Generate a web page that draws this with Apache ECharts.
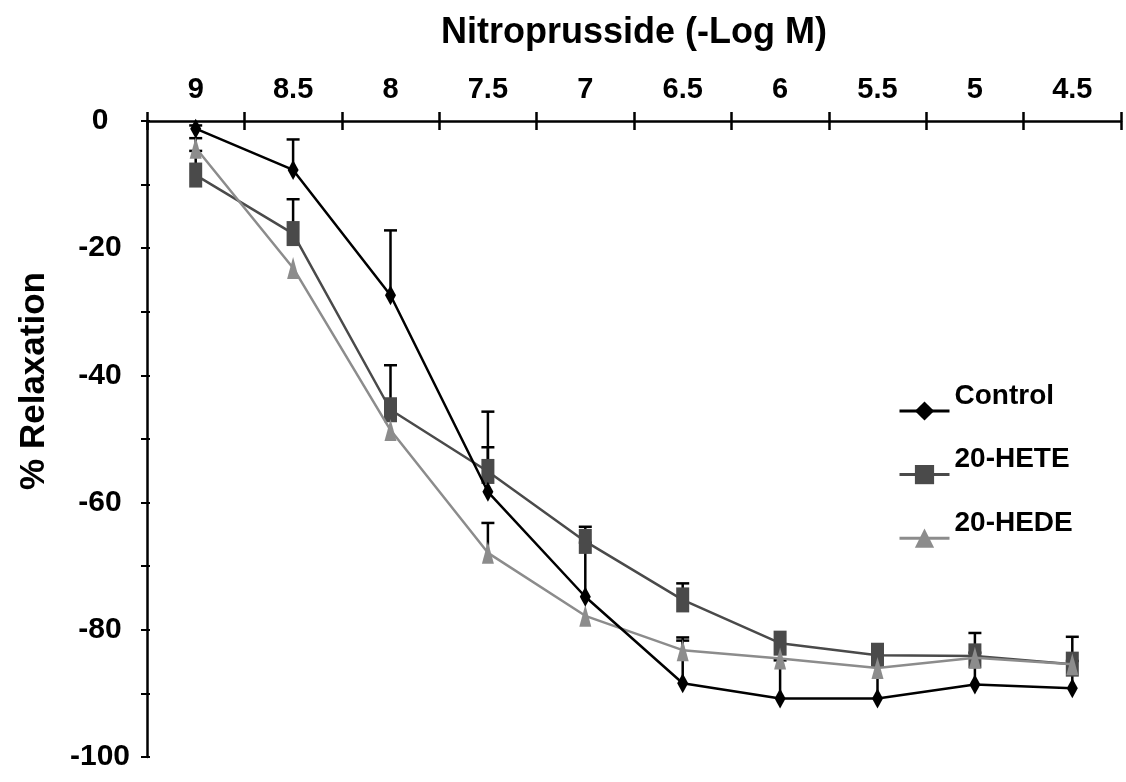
<!DOCTYPE html>
<html>
<head>
<meta charset="utf-8">
<script src="https://cdn.jsdelivr.net/npm/echarts@6/dist/echarts.min.js"></script>
<style>
  html, body { margin: 0; padding: 0; background: #fff; }
  #chart { width: 1126px; height: 782px; }
</style>
</head>
<body>
<div id="chart"></div>
<script>
// concentrations (-Log M)
var doses = ["9", "8.5", "8", "7.5", "7", "6.5", "6", "5.5", "5", "4.5"];

// % relaxation
var control = [-1.2, -7.7, -27.4, -58.3, -74.8, -88.4, -90.8, -90.8, -88.6, -89.2];
var hete = [-8.5, -17.7, -45.4, -55.1, -66.1, -75.3, -82.1, -84.0, -84.1, -85.4];
var hede = [-4.2, -23.1, -48.6, -67.9, -77.8, -83.2, -84.5, -86.0, -84.4, -85.4];

// upper error (SEM), 0 = no visible bar
var controlErr = [0.5, 4.8, 10.2, 7.0, 8.5, 7.2, 6.0, 5.0, 8.1, 8.1];
var heteErr = [3.8, 5.4, 7.0, 9.4, 2.3, 2.6, 0, 0, 0.5, 0.5];
var hedeErr = [1.5, 0, 0, 4.7, 0, 1.5, 0, 0, 0, 0];

var font = "'Liberation Sans', Arial, sans-serif";

function errRows(vals, errs) {
  var rows = [];
  for (var i = 0; i < vals.length; i++) {
    if (errs[i] > 0) rows.push([i, vals[i], vals[i] + errs[i]]);
  }
  return rows;
}

function errorBar(params, api) {
  var lo = api.coord([api.value(0), api.value(1)]);
  var hi = api.coord([api.value(0), api.value(2)]);
  var half = 6.5;
  var st = { stroke: "#000", lineWidth: 2.5 };
  return {
    type: "group",
    children: [
      { type: "line", shape: { x1: lo[0], y1: lo[1], x2: hi[0], y2: hi[1] }, style: st },
      { type: "line", shape: { x1: hi[0] - half, y1: hi[1], x2: hi[0] + half, y2: hi[1] }, style: st }
    ]
  };
}

var chart = echarts.init(document.getElementById("chart"));
chart.setOption({
  animation: false,
  grid: { left: 147, right: 5, top: 121, bottom: 25, containLabel: false },
  legend: {
    orient: "vertical",
    left: 893,
    top: 377,
    itemWidth: 50,
    itemHeight: 24,
    itemGap: 25,
    lineStyle: { width: 3 },
    formatter: "{t|{name}}",
    textStyle: {
      fontFamily: font, fontWeight: "bold", fontSize: 28, color: "#000",
      rich: { t: { fontFamily: font, fontWeight: "bold", fontSize: 28, color: "#000", padding: [0, 0, 30, 0] } }
    },
    data: ["Control", "20-HETE", "20-HEDE"]
  },
  xAxis: [
    {
      type: "category",
      position: "top",
      data: doses,
      boundaryGap: true,
      name: "Nitroprusside (-Log M)",
      nameLocation: "middle",
      nameGap: 70,
      nameTextStyle: { fontFamily: font, fontWeight: "bold", fontSize: 36, color: "#000" },
      axisLine: { lineStyle: { color: "#000", width: 2.5 } },
      axisTick: { show: true, length: 9, lineStyle: { color: "#000", width: 2.5 } },
      axisLabel: { margin: 17, fontFamily: font, fontWeight: "bold", fontSize: 29, color: "#000" },
      splitLine: { show: false }
    },
    {
      type: "category",
      position: "top",
      data: doses,
      boundaryGap: true,
      axisLine: { show: false },
      axisTick: { show: true, inside: true, length: 9, lineStyle: { color: "#000", width: 2.5 } },
      axisLabel: { show: false },
      splitLine: { show: false }
    }
  ],
  yAxis: [
    {
      type: "value",
      min: -100,
      max: 0,
      interval: 10,
      axisLine: { show: true, lineStyle: { color: "#000", width: 2.5 } },
      axisTick: { show: true, length: 6, lineStyle: { color: "#000", width: 2 } },
      axisLabel: {
        align: "center",
        margin: 47,
        fontFamily: font,
        fontWeight: "bold",
        fontSize: 30,
        color: "#000",
        formatter: function (v) { return v % 20 === 0 ? String(v) : ""; }
      },
      splitLine: { show: false }
    },
    {
      type: "value",
      min: -100,
      max: 0,
      interval: 10,
      position: "left",
      axisLine: { show: false },
      axisTick: { show: true, inside: true, length: 3, lineStyle: { color: "#000", width: 2 } },
      axisLabel: { show: false },
      splitLine: { show: false }
    }
  ],
  graphic: [
    {
      type: "text",
      x: 34,
      y: 381,
      rotation: Math.PI / 2,
      style: {
        text: "% Relaxation",
        fontFamily: font,
        fontWeight: "bold",
        fontSize: 35,
        fill: "#000",
        align: "center",
        verticalAlign: "middle"
      }
    }
  ],
  series: [
    {
      type: "custom", name: "errControl", renderItem: errorBar, z: 1,
      encode: { x: 0, y: [1, 2] }, data: errRows(control, controlErr)
    },
    {
      type: "custom", name: "errHete", renderItem: errorBar, z: 1,
      encode: { x: 0, y: [1, 2] }, data: errRows(hete, heteErr)
    },
    {
      type: "custom", name: "errHede", renderItem: errorBar, z: 1,
      encode: { x: 0, y: [1, 2] }, data: errRows(hede, hedeErr)
    },
    {
      name: "20-HETE", type: "line", data: hete, z: 3,
      symbol: "rect", symbolSize: [13, 25],
      lineStyle: { color: "#4a4a4a", width: 2.5 },
      itemStyle: { color: "#4a4a4a" }
    },
    {
      name: "20-HEDE", type: "line", data: hede, z: 4,
      symbol: "triangle", symbolSize: [12, 22],
      lineStyle: { color: "#8c8c8c", width: 2.5 },
      itemStyle: { color: "#8c8c8c" }
    },
    {
      name: "Control", type: "line", data: control, z: 5,
      symbol: "diamond", symbolSize: [11, 20],
      lineStyle: { color: "#000", width: 2.5 },
      itemStyle: { color: "#000" }
    }
  ]
});
</script>
</body>
</html>
